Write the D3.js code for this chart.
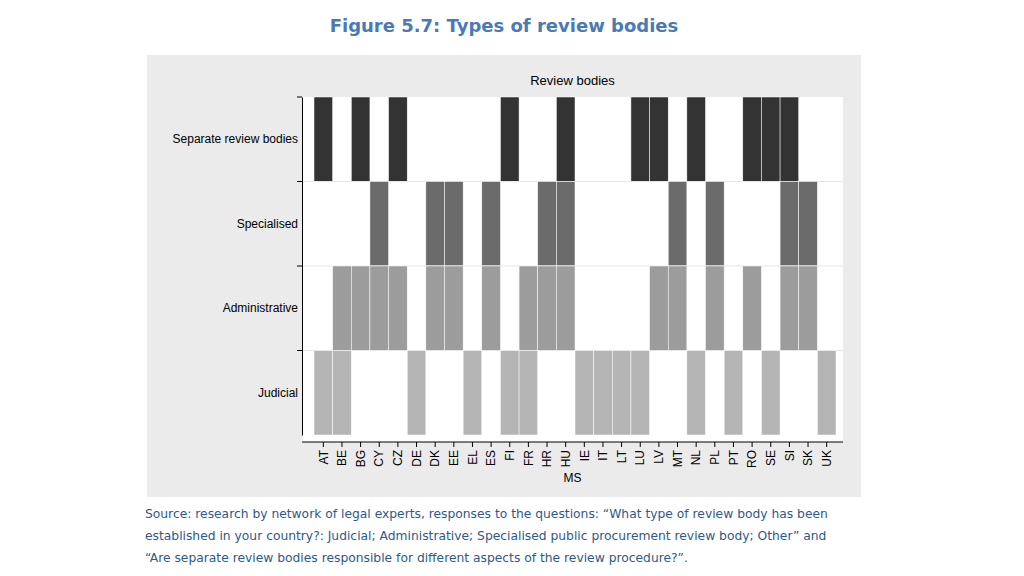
<!DOCTYPE html><html><head><meta charset="utf-8"><script src="https://d3js.org/d3.v7.min.js"></script>
<style>body{margin:0;background:#fff}</style></head><body><svg id="c" width="1024" height="576"></svg>
<script>
const countries=["AT","BE","BG","CY","CZ","DE","DK","EE","EL","ES","FI","FR","HR","HU","IE","IT","LT","LU","LV","MT","NL","PL","PT","RO","SE","SI","SK","UK"];
const rows=["Separate review bodies","Specialised","Administrative","Judicial"];
const separate=["AT","BG","CZ","FI","HU","LU","LV","NL","RO","SE","SI"];
const specialised=["CY","DK","EE","ES","HR","HU","MT","PL","SI","SK"];
const administrative=["BE","BG","CY","CZ","DK","EE","ES","FR","HR","HU","LV","MT","PL","RO","SI","SK"];
const judicial=["AT","BE","DE","EL","FI","FR","IE","IT","LT","LU","NL","PT","SE","UK"];
const colors=["#333333","#6b6b6b","#9c9c9c","#b5b5b5"];
const lists=[separate,specialised,administrative,judicial];
const svg=d3.select("#c");
svg.append("text").attr("x",504).attr("y",32).attr("text-anchor","middle").attr("font-family","DejaVu Sans").attr("font-weight","bold").attr("font-size",18).attr("fill","#4a7ab5").text("Figure 5.7: Types of review bodies");
svg.append("rect").attr("x",147).attr("y",55).attr("width",714).attr("height",442).attr("fill","#ebebeb");
const L=302,R=843,T=97,B=442;
svg.append("rect").attr("x",L).attr("y",T).attr("width",R-L).attr("height",B-T).attr("fill","#fff");
const x=d3.scaleBand().domain(countries).range([314,836]).padding(0);
const y=d3.scaleBand().domain(rows).range([T,T+338]);
svg.append("text").attr("x",(L+R)/2).attr("y",85).attr("text-anchor","middle").attr("font-family","Liberation Sans").attr("font-size",13).text("Review bodies");
rows.forEach((r,i)=>{
  if(i>0) svg.append("line").attr("x1",L).attr("x2",R).attr("y1",y(r)).attr("y2",y(r)).attr("stroke","#e6e6e6");
  svg.append("g").selectAll("rect").data(lists[i]).join("rect")
   .attr("x",d=>x(d)).attr("y",y(r)).attr("width",x.bandwidth()).attr("height",y.bandwidth())
   .attr("fill",colors[i]).attr("stroke","#fff").attr("stroke-width",0.5);
});
const ya=svg.append("g").attr("transform",`translate(${L},0)`).call(d3.axisLeft(y).tickSize(0).tickPadding(4));
ya.selectAll("text").attr("font-family","Liberation Sans").attr("font-size",12).attr("fill","#000");
ya.select(".domain").attr("stroke","#000");
rows.forEach(r=>svg.append("line").attr("x1",L-5).attr("x2",L).attr("y1",y(r)).attr("y2",y(r)).attr("stroke","#000"));
const xa=svg.append("g").attr("transform",`translate(0,${B})`).call(d3.axisBottom(x).tickSize(5));
xa.select(".domain").attr("d",`M${L},0H${R}`).attr("stroke","#000");
xa.selectAll("text").attr("font-family","Liberation Sans").attr("font-size",12).attr("fill","#000")
 .attr("transform","rotate(-90)").attr("text-anchor","end").attr("x",-8).attr("y",0).attr("dy","0.35em");
svg.append("text").attr("x",(L+R)/2).attr("y",482).attr("text-anchor","middle").attr("font-family","Liberation Sans").attr("font-size",12).text("MS");
const src=["Source: research by network of legal experts, responses to the questions: “What type of review body has been","established in your country?: Judicial; Administrative; Specialised public procurement review body; Other” and","“Are separate review bodies responsible for different aspects of the review procedure?”."];
src.forEach((s,i)=>svg.append("text").attr("x",145).attr("y",518+i*22).attr("font-family","DejaVu Sans").attr("font-size",12.3).attr("fill","#2e5a8a").text(s));
</script></body></html>
